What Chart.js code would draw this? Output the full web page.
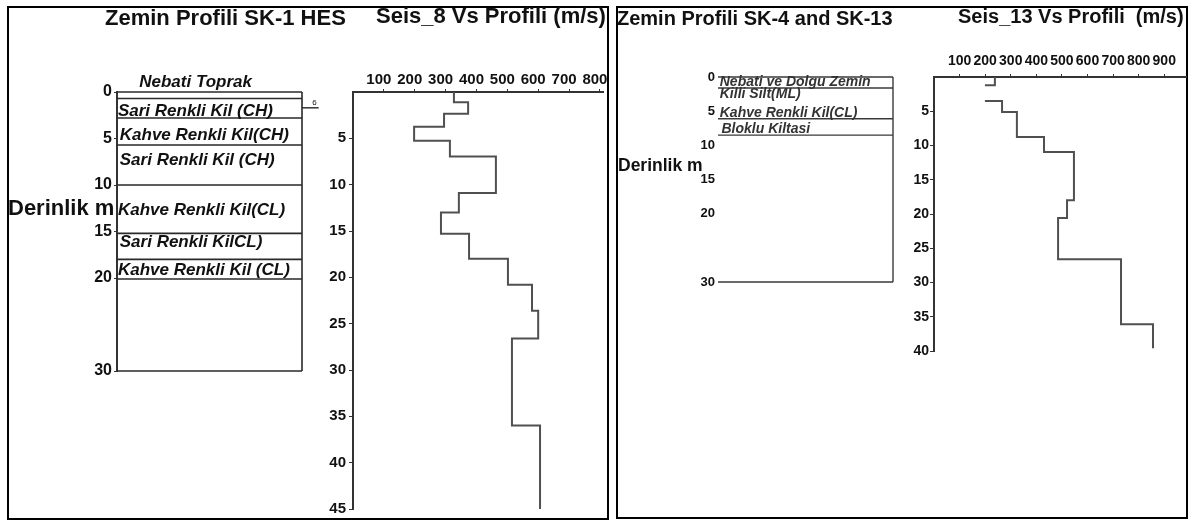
<!DOCTYPE html>
<html>
<head>
<meta charset="utf-8">
<title>Zemin Profili / Vs Profili</title>
<script src="https://cdn.jsdelivr.net/npm/chart.js@4.4.1/dist/chart.umd.min.js"></script>
<style>
    body { margin: 0; background: #fff; width: 1188px; height: 521px; overflow: hidden; position: relative;
           font-family: "Liberation Sans", Arial, sans-serif; }
    canvas { position: absolute; left: 0; top: 0; }
    .panel { position: absolute; border: 2px solid #000; box-sizing: border-box; }
    .label { position: absolute; font-weight: bold; line-height: 1; white-space: pre; color: #111; }
</style>
</head>
<body>
<div class="panel" style="left:7px;top:6px;width:602px;height:514px"></div>
<div class="panel" style="left:616px;top:6px;width:572px;height:513px"></div>

<canvas id="col1" width="1188" height="521"></canvas>
<canvas id="vs8" width="1188" height="521"></canvas>
<canvas id="col2" width="1188" height="521"></canvas>
<canvas id="vs13" width="1188" height="521"></canvas>

<div class="label" style="left:105px;top:7px;font-size:22px">Zemin Profili SK-1 HES</div>
<div class="label" style="left:376px;top:5px;font-size:22px">Seis_8 Vs Profili (m/s)</div>
<div class="label" style="left:8px;top:197px;font-size:22px">Derinlik m</div>
<div class="label" style="left:617px;top:8px;font-size:20px">Zemin Profili SK-4 and SK-13</div>
<div class="label" style="left:958px;top:6px;font-size:20px">Seis_13 Vs Profili  (m/s)</div>
<div class="label" style="left:618px;top:157px;font-size:17.5px">Derinlik m</div>

<script>
    'use strict';

    // Soil column SK-1 (depth in m)
    var soil1Bounds = [0, 0.7, 2.8, 5.7, 10, 15.2, 18, 20.1, 30];
    var soil1Labels = ['Nebati Toprak', 'Sari Renkli Kil (CH)', 'Kahve Renkli Kil(CH)', 'Sari Renkli Kil (CH)',
                       'Kahve Renkli Kil(CL)', 'Sari Renkli KilCL)', 'Kahve Renkli Kil (CL)'];
    var soil1LabelDepths = [-0.5, 2.6, 5.15, 7.85, 13.2, 16.7, 19.7];
    var soil1LabelX = [0.12, 0.005, 0.015, 0.015, 0.005, 0.015, 0.005];
    var soil1Water = 1.7;

    // Soil column SK-4 / SK-13
    var soil2Bounds = [0, 1.6, 6.1, 8.5, 30];
    var soil2Labels = ['Nebati ve Dolgu Zemin', 'Killi Silt(ML)', 'Kahve Renkli Kil(CL)', 'Bloklu Kiltasi'];
    var soil2LabelDepths = [1.3, 3.05, 5.85, 8.2];
    var soil2LabelX = [0.01, 0.01, 0.01, 0.02];

    var soilTicks = [0, 5, 10, 15, 20, 30];

    // Seis_8 Vs profile: layer boundaries (m) and velocity of each layer (m/s)
    var vs8Depths = [0, 1.1, 2.35, 3.75, 5.25, 6.95, 10.9, 13.0, 15.3, 18.0, 20.8, 23.6, 26.6, 36.0, 45];
    var vs8Values = [327, 373, 295, 198, 314, 463, 343, 285, 376, 502, 580, 600, 515, 606];
    var vs8Ticks = [100, 200, 300, 400, 500, 600, 700, 800];
    var vs8DepthTicks = [5, 10, 15, 20, 25, 30, 35, 40, 45];

    // Seis_13 Vs profile
    var vs13Depths = [0, 1.2, 3.5, 5.1, 8.75, 10.95, 18.0, 20.6, 26.6, 36.1, 39.6];
    var vs13Values = [238, 199, 266, 324, 430, 547, 520, 485, 731, 856];
    var vs13Breaks = [1]; // layer whose vertical edge is missing in the drawing
    var vs13Ticks = [100, 200, 300, 400, 500, 600, 700, 800, 900];
    var vs13DepthTicks = [5, 10, 15, 20, 25, 30, 35, 40];

    var FONT = '"Liberation Sans", Arial, sans-serif';
    var W = 1188, H = 521;
    var AXIS_W = 50, AXIS_H = 30;

    Chart.defaults.font.family = FONT;
    Chart.defaults.color = '#111';

    /**
     * Step line points for a velocity profile
     */
    function stepPoints(depths, values, breaks) {
        var pts = [];
        values.forEach(function(v, i) {
            pts.push({x: v, y: depths[i]});
            if (breaks && breaks.indexOf(i) !== -1) {
                pts.push({x: null, y: null});
            }
            pts.push({x: v, y: depths[i + 1]});
        });
        return pts;
    }

    /**
     * Horizontal layer boundary lines plus the right edge of the column
     */
    function columnPoints(bounds) {
        var pts = [];
        bounds.forEach(function(d) {
            pts.push({x: 0, y: d}, {x: 1, y: d}, {x: null, y: null});
        });
        pts.push({x: 1, y: bounds[0]}, {x: 1, y: bounds[bounds.length - 1]});
        return pts;
    }

    function fixedTicks(list) {
        return function(scale) {
            scale.ticks = list.map(function(v) { return {value: v}; });
        };
    }

    // keep axis boxes at a known size so the plot area lands where it should
    function fixSize(scale) {
        if (scale.isHorizontal()) {
            scale.height = AXIS_H;
        } else {
            scale.width = AXIS_W;
        }
    }

    function padFor(area, topAxis) {
        return {
            left: area.left - AXIS_W,
            top: area.top - (topAxis ? AXIS_H : 0),
            right: W - area.right,
            bottom: H - area.bottom
        };
    }

    function labelPlugin(labels, depths, xs, font, color, extra) {
        return {
            id: 'layerLabels',
            afterDatasetsDraw: function(chart) {
                var ctx = chart.ctx;
                var sx = chart.scales.x, sy = chart.scales.y;
                ctx.save();
                ctx.font = font;
                ctx.fillStyle = color;
                ctx.textAlign = 'left';
                ctx.textBaseline = 'alphabetic';
                labels.forEach(function(t, i) {
                    ctx.fillText(t, sx.getPixelForValue(xs[i]), sy.getPixelForValue(depths[i]));
                });
                if (extra) {
                    extra(ctx, sx, sy);
                }
                ctx.restore();
            }
        };
    }

    function baseOptions(area, topAxis) {
        return {
            responsive: false,
            animation: false,
            devicePixelRatio: 1,
            events: [],
            layout: {padding: padFor(area, topAxis)},
            plugins: {legend: {display: false}, tooltip: {enabled: false}, title: {display: false}}
        };
    }

    function lineSet(points, color, width) {
        return {
            data: points,
            showLine: true,
            borderColor: color,
            borderWidth: width,
            pointRadius: 0,
            spanGaps: false,
            clip: false
        };
    }

    /**
     * Soil column chart
     */
    function makeColumn(id, area, bounds, extraSets, axis, plugin) {
        var opts = baseOptions(area, false);
        opts.scales = {
            x: {type: 'linear', min: 0, max: 1, display: false},
            y: {
                type: 'linear',
                reverse: true,
                min: 0,
                max: 30,
                afterBuildTicks: fixedTicks(soilTicks),
                afterFit: fixSize,
                grid: {drawOnChartArea: false, drawTicks: axis.tickLength > 0, tickLength: axis.tickLength, color: '#333'},
                border: {display: axis.border, color: '#333', width: 2},
                ticks: {font: {size: axis.size, weight: 'bold'}, color: '#111', padding: axis.padding}
            }
        };
        return new Chart(document.getElementById(id), {
            type: 'scatter',
            data: {datasets: [lineSet(columnPoints(bounds), axis.line, axis.lineWidth)].concat(extraSets)},
            options: opts,
            plugins: [plugin]
        });
    }

    /**
     * Vs profile chart
     */
    function makeProfile(id, area, points, scaleOpts) {
        var opts = baseOptions(area, true);
        var font = {size: scaleOpts.fontSize, weight: 'bold'};
        opts.scales = {
            x: {
                type: 'linear',
                position: 'top',
                min: 0,
                max: scaleOpts.xMax,
                afterBuildTicks: fixedTicks(scaleOpts.xTicks),
                afterFit: fixSize,
                grid: {drawOnChartArea: false, tickLength: 3, color: '#333'},
                border: {display: true, color: '#333', width: 2},
                ticks: {font: font, color: '#111', padding: scaleOpts.xPad, labelOffset: scaleOpts.xShift,
                        maxRotation: 0, autoSkip: false}
            },
            y: {
                type: 'linear',
                reverse: true,
                min: 0,
                max: scaleOpts.yMax,
                afterBuildTicks: fixedTicks(scaleOpts.yTicks),
                afterFit: fixSize,
                grid: {drawOnChartArea: false, tickLength: 4, color: '#333'},
                border: {display: true, color: '#333', width: 2},
                ticks: {font: font, color: '#111', padding: scaleOpts.yPad}
            }
        };
        return new Chart(document.getElementById(id), {
            type: 'scatter',
            data: {datasets: [lineSet(points, '#505050', 2)]},
            options: opts
        });
    }

    var col1Area = {left: 117, top: 92, right: 302, bottom: 371};
    var vs8Area = {left: 353, top: 92, right: 603, bottom: 513};
    var col2Area = {left: 718, top: 77, right: 893, bottom: 282};
    var vs13Area = {left: 934, top: 77, right: 1186, bottom: 351};

    // Left column with the small water level mark on its right side
    var waterSet = lineSet([{x: 1, y: soil1Water}, {x: 1.09, y: soil1Water}], '#333', 1.5);
    makeColumn('col1', col1Area, soil1Bounds, [waterSet],
        {tickLength: 3, border: true, size: 16, padding: 2, line: '#2a2a2a', lineWidth: 1.6},
        labelPlugin(soil1Labels, soil1LabelDepths, soil1LabelX, 'italic bold 17px ' + FONT, '#111',
            function(ctx, sx, sy) {
                ctx.font = '8px ' + FONT;
                ctx.fillText('6', sx.getPixelForValue(1.055), sy.getPixelForValue(soil1Water) - 3);
            }));

    makeProfile('vs8', vs8Area, stepPoints(vs8Depths, vs8Values), {
        xMax: 810, yMax: 45, xTicks: vs8Ticks, yTicks: vs8DepthTicks,
        fontSize: 15, xPad: 0, xShift: -5, yPad: 3
    });

    makeColumn('col2', col2Area, soil2Bounds, [],
        {tickLength: 0, border: false, size: 13, padding: 3, line: '#3a3a3a', lineWidth: 1.4},
        labelPlugin(soil2Labels, soil2LabelDepths, soil2LabelX, 'italic bold 14px ' + FONT, '#333'));

    makeProfile('vs13', vs13Area, stepPoints(vs13Depths, vs13Values, vs13Breaks), {
        xMax: 985, yMax: 40, xTicks: vs13Ticks, yTicks: vs13DepthTicks,
        fontSize: 14, xPad: 4, xShift: 0, yPad: 1
    });
</script>
</body>
</html>
